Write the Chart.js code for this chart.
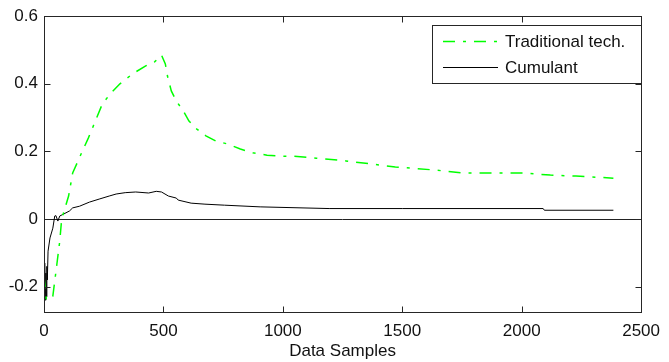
<!DOCTYPE html>
<html>
<head>
<meta charset="utf-8">
<script src="https://cdn.jsdelivr.net/npm/chart.js@4"></script>
<style>
  html, body { margin: 0; padding: 0; background: #ffffff; }
  #chart { display: block; }
</style>
</head>
<body>
<canvas id="chart" width="669" height="362"></canvas>
<script>
// Data
const tradSamples = [0, 10, 25, 37, 54, 66, 74, 103, 120, 157, 186, 215, 244, 277, 318, 372, 426, 463, 492,
    508, 517, 533, 554, 583, 607, 640, 678, 719, 769, 822, 880, 934, 988, 1041, 1140, 1264, 1368, 1471,
    1636, 1760, 1872, 2008, 2120, 2227, 2384];
const tradValues = [-0.17, -0.24, -0.235, -0.228, -0.133, -0.065, 0, 0.068, 0.136, 0.195, 0.24, 0.29, 0.34, 0.37,
    0.40, 0.43, 0.453, 0.465, 0.485, 0.459, 0.423, 0.379, 0.349, 0.32, 0.29, 0.266, 0.246, 0.231, 0.222,
    0.207, 0.195, 0.189, 0.186, 0.186, 0.18, 0.172, 0.163, 0.154, 0.145, 0.136, 0.136, 0.136, 0.13, 0.127, 0.121];

const cumSamples = [0, 2, 4, 6, 8, 10, 12, 14, 17, 25, 37, 45, 50, 58, 66, 83, 107, 120, 149, 190, 231, 273,
    302, 340, 384, 438, 470, 492, 521, 554, 562, 616, 674, 756, 905, 1194, 1500, 2090, 2095, 2384];
const cumValues = [-0.15, -0.22, -0.13, -0.24, -0.16, -0.23, -0.14, -0.18, -0.095, -0.056, -0.027, 0.009, 0.01,
    -0.006, 0.009, 0.015, 0.024, 0.033, 0.038, 0.05, 0.059, 0.068, 0.074, 0.078, 0.08, 0.077, 0.082, 0.08,
    0.068, 0.062, 0.056, 0.047, 0.044, 0.041, 0.036, 0.031, 0.031, 0.031, 0.026, 0.026];

const seriesLabels = ['Traditional tech.', 'Cumulant'];
const xTicks = [0, 500, 1000, 1500, 2000, 2500];
const yTicks = [-0.2, 0, 0.2, 0.4, 0.6];
const xLabel = 'Data Samples';

const FONT = 'Liberation Sans, Arial, sans-serif';
const TRAD_DASH = [12, 8, 3, 8];

function toPoints(xs, ys) {
    return xs.map((x, i) => ({ x: x, y: ys[i] }));
}

// Box, inward ticks, zero line and boxed legend, drawn like a MATLAB figure
const matlabAxes = {
    id: 'matlabAxes',
    beforeDatasetsDraw(chart) {
        const { ctx, chartArea: a, scales } = chart;
        const y0 = Math.round(scales.y.getPixelForValue(0)) + 0.5;
        ctx.save();
        ctx.strokeStyle = '#222';
        ctx.lineWidth = 1;
        ctx.beginPath();
        ctx.moveTo(a.left, y0);
        ctx.lineTo(a.right, y0);
        ctx.stroke();
        ctx.restore();
    },
    afterDatasetsDraw(chart) {
        const { ctx, chartArea: a, scales } = chart;
        const L = Math.round(a.left) + 0.5, R = Math.round(a.right) + 0.5;
        const T = Math.round(a.top) + 0.5, B = Math.round(a.bottom) + 0.5;
        const tick = 6;
        ctx.save();
        ctx.strokeStyle = '#262626';
        ctx.lineWidth = 1;
        ctx.strokeRect(L, T, R - L, B - T);
        ctx.beginPath();
        xTicks.forEach(v => {
            const px = Math.round(scales.x.getPixelForValue(v)) + 0.5;
            ctx.moveTo(px, B); ctx.lineTo(px, B - tick);
            ctx.moveTo(px, T); ctx.lineTo(px, T + tick);
        });
        yTicks.forEach(v => {
            const py = Math.round(scales.y.getPixelForValue(v)) + 0.5;
            ctx.moveTo(L, py); ctx.lineTo(L + tick, py);
            ctx.moveTo(R, py); ctx.lineTo(R - tick, py);
        });
        ctx.stroke();

        // legend
        const box = { x: 432.5, y: 25.5, w: 209, h: 58 };
        ctx.fillStyle = '#ffffff';
        ctx.fillRect(box.x, box.y, box.w, box.h);
        ctx.strokeRect(box.x, box.y, box.w, box.h);
        const rows = [41, 67];
        chart.data.datasets.forEach((ds, i) => {
            if (!ds.label) return;
            const y = rows[i] + 0.5;
            ctx.strokeStyle = ds.borderColor;
            ctx.lineWidth = ds.borderWidth;
            ctx.setLineDash(ds.borderDash || []);
            ctx.beginPath();
            ctx.moveTo(443, y);
            ctx.lineTo(498, y);
            ctx.stroke();
            ctx.setLineDash([]);
            ctx.fillStyle = '#111';
            ctx.font = '17px ' + FONT;
            ctx.textBaseline = 'middle';
            ctx.textAlign = 'left';
            ctx.fillText(ds.label, 505, rows[i] + 1);
        });
        ctx.restore();
    }
};

new Chart(document.getElementById('chart'), {
    type: 'line',
    data: {
        datasets: [
            {
                label: seriesLabels[0],
                data: toPoints(tradSamples, tradValues),
                borderColor: '#00ff00',
                borderWidth: 1.5,
                borderDash: TRAD_DASH,
                pointRadius: 0,
                tension: 0
            },
            {
                label: seriesLabels[1],
                data: toPoints(cumSamples, cumValues),
                borderColor: '#000000',
                borderWidth: 1,
                pointRadius: 0,
                tension: 0
            }
        ]
    },
    options: {
        responsive: false,
        animation: false,
        devicePixelRatio: 1,
        layout: { padding: { top: 15, right: 20, left: 0, bottom: 0 } },
        plugins: {
            legend: { display: false },
            tooltip: { enabled: false }
        },
        scales: {
            x: {
                type: 'linear',
                min: 0,
                max: 2500,
                grid: { display: false, drawTicks: false },
                border: { display: false },
                afterBuildTicks: s => { s.ticks = xTicks.map(v => ({ value: v })); },
                afterFit: s => { s.height = 50; },
                ticks: {
                    font: { family: FONT, size: 17 },
                    color: '#111',
                    padding: 9,
                    maxRotation: 0,
                    callback: v => String(v)
                },
                title: {
                    display: true,
                    text: xLabel,
                    font: { family: FONT, size: 17 },
                    color: '#111',
                    padding: { top: 0, bottom: 0 }
                }
            },
            y: {
                min: -0.275,
                max: 0.6,
                grid: { display: false, drawTicks: false },
                border: { display: false },
                afterBuildTicks: s => { s.ticks = yTicks.map(v => ({ value: v })); },
                afterFit: s => { s.width = 44; },
                ticks: {
                    font: { family: FONT, size: 17 },
                    color: '#111',
                    padding: 6,
                    callback: v => String(+Number(v).toFixed(1))
                }
            }
        }
    },
    plugins: [matlabAxes]
});
</script>
</body>
</html>
